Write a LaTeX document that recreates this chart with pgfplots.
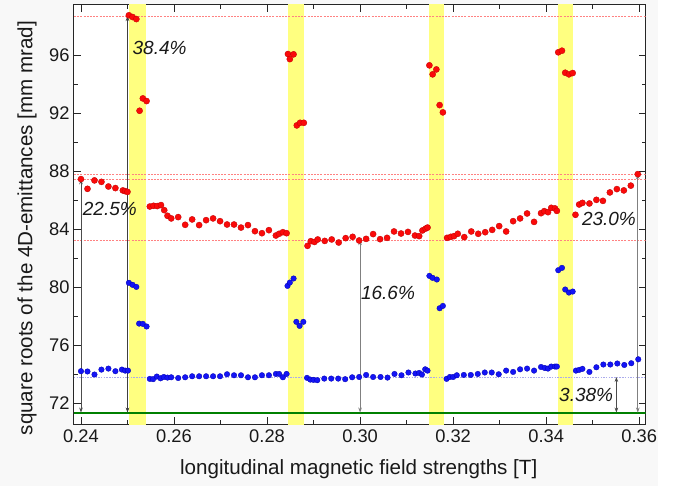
\documentclass[border=0pt]{standalone}
\usepackage{pgfplots}
\pgfplotsset{compat=1.18}
\usepackage{pgfplotstable}
\usepackage{fontspec}
\setmainfont{Liberation Sans}
\usetikzlibrary{arrows.meta}
\definecolor{bandyellow}{RGB}{255,255,128}
\definecolor{bgcol}{RGB}{248,248,248}
\definecolor{dred}{RGB}{255,130,130}
\definecolor{dblue}{RGB}{170,170,235}
\definecolor{lgreen}{RGB}{0,128,0}
\definecolor{bred}{RGB}{250,10,10}
\definecolor{bblue}{RGB}{20,20,245}

\pgfplotstableread{
x y
0.2400 87.45
0.2414 86.78
0.2429 87.36
0.2444 87.26
0.2459 86.94
0.2474 86.83
0.2490 86.67
0.2495 86.62
0.2500 86.57
0.2503 98.74
0.2511 98.62
0.2519 98.48
0.2526 92.16
0.2533 93.01
0.2541 92.83
0.2548 85.56
0.2556 85.61
0.2564 85.59
0.2572 85.66
0.2579 85.31
0.2586 84.92
0.2594 84.74
0.2609 84.83
0.2624 84.30
0.2639 84.67
0.2654 84.28
0.2669 84.62
0.2684 84.74
0.2699 84.55
0.2714 84.32
0.2729 84.32
0.2744 84.11
0.2759 84.28
0.2774 83.86
0.2789 83.72
0.2804 83.93
0.2819 83.56
0.2826 83.68
0.2834 83.79
0.2842 83.72
0.2845 96.07
0.2849 95.72
0.2857 96.05
0.2864 91.15
0.2871 91.33
0.2879 91.33
0.2887 82.85
0.2894 83.17
0.2902 83.12
0.2909 83.29
0.2924 83.19
0.2939 83.29
0.2954 83.08
0.2969 83.38
0.2984 83.47
0.2998 83.22
0.3013 83.33
0.3028 83.66
0.3043 83.31
0.3058 83.40
0.3073 83.84
0.3088 83.70
0.3103 83.81
0.3118 83.56
0.3127 83.52
0.3134 83.91
0.3141 84.04
0.3145 84.11
0.3149 95.29
0.3156 94.67
0.3164 95.01
0.3171 92.55
0.3178 92.05
0.3187 83.40
0.3195 83.47
0.3202 83.52
0.3210 83.68
0.3224 83.45
0.3239 83.84
0.3254 83.68
0.3269 83.79
0.3284 83.95
0.3299 84.21
0.3314 83.84
0.3329 84.55
0.3344 84.74
0.3359 85.08
0.3374 84.50
0.3389 85.10
0.3396 85.24
0.3404 85.17
0.3411 85.47
0.3419 85.43
0.3423 85.26
0.3426 96.19
0.3434 96.30
0.3441 94.78
0.3449 94.67
0.3457 94.76
0.3463 84.99
0.3471 85.70
0.3478 85.81
0.3493 85.77
0.3508 86.02
0.3522 85.95
0.3537 86.53
0.3552 86.76
0.3567 86.67
0.3582 87.00
0.3597 87.79
}\reddata

\pgfplotstableread{
x y
0.2400 74.21
0.2414 74.19
0.2429 73.98
0.2444 74.32
0.2459 74.39
0.2474 74.21
0.2488 74.32
0.2495 74.25
0.2501 74.25
0.2503 80.30
0.2511 80.16
0.2519 80.02
0.2525 77.49
0.2533 77.47
0.2541 77.29
0.2548 73.68
0.2555 73.66
0.2563 73.84
0.2571 73.72
0.2578 73.81
0.2586 73.77
0.2594 73.79
0.2609 73.74
0.2624 73.79
0.2639 73.86
0.2654 73.86
0.2669 73.86
0.2684 73.86
0.2699 73.86
0.2714 74.00
0.2729 73.93
0.2744 73.93
0.2759 73.79
0.2774 73.79
0.2789 73.93
0.2804 73.93
0.2819 74.02
0.2826 74.02
0.2834 73.79
0.2842 74.02
0.2844 80.09
0.2849 80.32
0.2857 80.60
0.2863 77.61
0.2870 77.33
0.2878 77.61
0.2886 73.75
0.2893 73.63
0.2900 73.61
0.2908 73.59
0.2923 73.70
0.2938 73.70
0.2953 73.70
0.2968 73.66
0.2983 73.79
0.2998 73.81
0.3013 73.95
0.3028 73.81
0.3044 73.81
0.3059 73.77
0.3074 74.02
0.3089 73.93
0.3104 74.12
0.3119 74.05
0.3127 74.09
0.3133 73.98
0.3140 74.34
0.3145 74.25
0.3149 80.78
0.3156 80.64
0.3165 80.53
0.3171 78.55
0.3178 78.71
0.3186 73.68
0.3193 73.81
0.3200 73.81
0.3208 73.93
0.3223 73.95
0.3238 73.95
0.3253 74.02
0.3268 74.12
0.3283 74.12
0.3298 74.00
0.3314 74.25
0.3329 74.16
0.3344 74.34
0.3359 74.39
0.3374 74.25
0.3389 74.50
0.3397 74.43
0.3404 74.39
0.3411 74.53
0.3419 74.53
0.3423 74.53
0.3426 81.17
0.3434 81.33
0.3441 79.84
0.3449 79.63
0.3457 79.70
0.3464 74.25
0.3471 74.30
0.3478 74.37
0.3493 74.16
0.3508 74.48
0.3523 74.67
0.3538 74.67
0.3553 74.74
0.3568 74.64
0.3583 74.76
0.3598 75.03
}\bluedata

\begin{document}
\begin{tikzpicture}[>={Stealth[length=5pt,width=3.6pt]}]
\fill[white] (-74pt,-64.7pt) rectangle (607pt,424.3pt);
\fill[bgcol] (-74pt,-62pt) rectangle (584pt,424.3pt);
\begin{axis}[
  at={(0pt,0pt)}, anchor=south west,
  scale only axis, width=571.7pt, height=419.3pt,
  xmin=0.2385, xmax=0.3614, ymin=70.55, ymax=99.45,
  axis background/.style={fill=white},
  axis line style={line width=1pt, black!85},
  every tick/.style={black!85, line width=0.8pt},
  major tick length=7pt, minor tick length=4pt,
  xtick={0.24,0.26,0.28,0.30,0.32,0.34,0.36},
  minor x tick num=1,
  ytick={72,76,80,84,88,92,96},
  minor y tick num=1,
  x tick label style={/pgf/number format/fixed, /pgf/number format/fixed zerofill, /pgf/number format/precision=2, yshift=-2pt},
  /pgf/number format/assume math mode=true,
  tick label style={font=\fontsize{18.3}{20}\selectfont, text=black!90},
  y tick label style={xshift=-1pt},
  label style={font=\fontsize{20.6}{22}\selectfont, text=black!90},
  xlabel={longitudinal magnetic field strengths [T]},
  ylabel={square roots of the 4D-emittances [mm mrad]},
  xlabel style={at={(axis description cs:0.498,-0.107)}, anchor=center},
  ylabel style={at={(axis description cs:-0.082,0.468)}, anchor=center},
  clip=true,
]
% yellow bands
\addplot[fill=bandyellow, draw=none] coordinates {(0.2503,70) (0.2540,70) (0.2540,100) (0.2503,100)} -- cycle;
\addplot[fill=bandyellow, draw=none] coordinates {(0.2845,70) (0.2879,70) (0.2879,100) (0.2845,100)} -- cycle;
\addplot[fill=bandyellow, draw=none] coordinates {(0.3149,70) (0.3180,70) (0.3180,100) (0.3149,100)} -- cycle;
\addplot[fill=bandyellow, draw=none] coordinates {(0.3426,70) (0.3457,70) (0.3457,100) (0.3426,100)} -- cycle;
% dashed reference lines
\addplot[dred, line width=0.5pt, dash pattern=on 2pt off 1.2pt] coordinates {(0.2385,98.69) (0.3614,98.69)};
\addplot[dred, line width=0.5pt, dash pattern=on 2pt off 1.2pt] coordinates {(0.2385,87.79) (0.3614,87.79)};
\addplot[dred, line width=0.5pt, dash pattern=on 2pt off 1.2pt] coordinates {(0.2385,87.43) (0.3614,87.43)};
\addplot[dred, line width=0.5pt, dash pattern=on 2pt off 1.2pt] coordinates {(0.2385,83.24) (0.3614,83.24)};
\addplot[dblue, line width=0.6pt, dash pattern=on 1.5pt off 1.2pt] coordinates {(0.2385,73.81) (0.3614,73.81)};
% green baseline
\addplot[lgreen, line width=2pt] coordinates {(0.2385,71.36) (0.3614,71.36)};
% arrows
\addplot[<->, black!70, line width=0.7pt] coordinates {(0.2400,71.36) (0.2400,87.43)};
\addplot[<->, black!75, line width=0.8pt] coordinates {(0.2500,71.36) (0.2500,98.69)};
\addplot[<->, black!50, line width=0.7pt] coordinates {(0.3000,71.36) (0.3000,83.24)};
\addplot[<->, black!50, line width=0.7pt] coordinates {(0.3597,71.36) (0.3597,87.79)};
\addplot[<->, black!70, line width=0.7pt] coordinates {(0.3551,71.36) (0.3551,73.81)};
% data
\addplot[only marks, mark=*, mark size=3.1pt, mark options={fill=bred, draw=red!75!black, line width=0.3pt}] table[x=x,y=y] {\reddata};
\addplot[only marks, mark=*, mark size=2.8pt, mark options={fill=bblue, draw=blue!70!black, line width=0.3pt}] table[x=x,y=y] {\bluedata};
% percentage labels
\node[font=\fontsize{19}{20}\itshape, text=black!90] at (axis cs:0.2569,96.48) {38.4\%};
\node[font=\fontsize{19}{20}\itshape, text=black!90] at (axis cs:0.2462,85.38) {22.5\%};
\node[font=\fontsize{19}{20}\itshape, text=black!90] at (axis cs:0.3060,79.59) {16.6\%};
\node[font=\fontsize{19}{20}\itshape, text=black!90] at (axis cs:0.3535,84.69) {23.0\%};
\node[font=\fontsize{19}{20}\itshape, text=black!90] at (axis cs:0.3486,72.55) {3.38\%};
\end{axis}
\end{tikzpicture}
\end{document}
